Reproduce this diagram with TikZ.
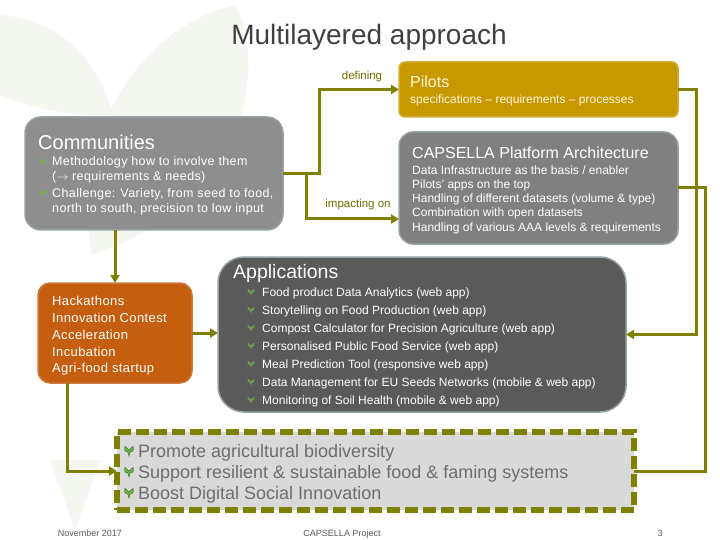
\documentclass[tikz,border=0pt]{standalone}
\usepackage{fontspec}
\setmainfont{Liberation Sans}
\usetikzlibrary{arrows.meta,calc}
\definecolor{olivec}{RGB}{128,128,0}
\definecolor{labelc}{RGB}{110,110,0}
\definecolor{pilotc}{RGB}{200,152,0}
\definecolor{pilotb}{RGB}{214,172,50}
\definecolor{pilott}{RGB}{255,246,215}
\definecolor{capsc}{RGB}{128,128,128}
\definecolor{commc}{RGB}{142,142,142}
\definecolor{appc}{RGB}{90,90,90}
\definecolor{edgec}{RGB}{150,162,166}
\definecolor{hackc}{RGB}{197,94,14}
\definecolor{hackb}{RGB}{206,122,62}
\definecolor{goalc}{RGB}{217,217,217}
\definecolor{goaltext}{RGB}{110,110,110}
\definecolor{titlec}{RGB}{64,64,64}
\definecolor{sproutc}{RGB}{110,180,70}
\definecolor{sproutd}{RGB}{60,120,30}
\definecolor{wmc}{RGB}{244,247,239}
\definecolor{footc}{RGB}{90,90,90}
\newcommand\fsz[1]{\fontsize{#1}{#1}\selectfont}
\tikzset{sprout/.pic={\path[pic actions] (0,0) -- (-0.8,-3) .. controls (-3.5,-3) and (-4,-6) .. (-3.2,-7.5) .. controls (-1.5,-6.5) .. (0,-4.5) .. controls (1.5,-6.5) .. (3.2,-7.5) .. controls (4,-6) and (3.5,-3) .. (0.8,-3) -- cycle;}}
\begin{document}
\begin{tikzpicture}[x=1pt,y=-1pt,
  box/.style={draw, line width=1.5pt, inner sep=0pt, outer sep=0pt},
  conn/.style={draw=olivec, line width=3pt},
  arr/.style={-{Triangle[length=8pt,width=9pt]}},
  txt/.style={anchor=base west, inner sep=0pt, text=white},
  lbl/.style={inner sep=0pt, text=labelc, font=\fsz{11.5}},
  foot/.style={anchor=base, inner sep=0pt, text=footc, font=\fsz{9}},
  bul/.style={fill=sproutc},
  gbul/.style={fill=sproutc, draw=sproutd, line width=0.5pt, scale=1.3}]
\useasboundingbox (0,0) rectangle (720,540);
\fill[white] (0,0) rectangle (720,540);
% watermark
\fill[wmc] (92,255) .. controls (70,150) and (130,30) .. (235,5) .. controls (265,60) and (255,200) .. (92,255) -- cycle;
\fill[wmc] (0,15) .. controls (60,20) and (100,60) .. (112,115) .. controls (70,118) and (25,105) .. (0,95) -- cycle;
\fill[wmc] (50,460) -- (100,460) -- (75,530) -- cycle;
% title
\node[font=\fsz{28}, text=titlec, inner sep=0pt] (title) at (369,37) {Multilayered approach};
% boxes
\node[box, draw=pilotb, fill=pilotc, rounded corners=6pt, minimum width=279pt, minimum height=55pt] (pilots) at (538.5,89.5) {};
\node[box, draw=edgec, fill=capsc, rounded corners=14pt, minimum width=279pt, minimum height=112pt] (caps) at (538.5,188) {};
\node[box, draw=edgec, fill=commc, rounded corners=16pt, minimum width=258pt, minimum height=113pt] (comm) at (154,173.5) {};
\node[box, draw=edgec, fill=appc, rounded corners=26pt, minimum width=408pt, minimum height=155pt] (apps) at (422,334.5) {};
\node[box, draw=hackb, fill=hackc, rounded corners=12pt, minimum width=154pt, minimum height=100pt] (hack) at (115,333) {};
\node[box, draw=olivec, fill=goalc, line width=6pt, dash pattern=on 13pt off 5pt, minimum width=517pt, minimum height=78pt] (goals) at (375.5,471) {};
% pilots text
\node[txt, text=pilott, font=\fsz{16}] (pt) at (410,88) {Pilots};
\node[txt, text=pilott, font=\fsz{12}] (ps) at (410,104) {specifications – requirements – processes};
% capsella text
\node[txt, font=\fsz{16}] (ct) at (412,159) {CAPSELLA Platform Architecture};
\node[txt, font=\fsz{12}] (c1t) at (412,175) {Data Infrastructure as the basis / enabler};
\node[txt, font=\fsz{12}] (c2t) at (412,189) {Pilots' apps on the top};
\node[txt, font=\fsz{12}] (c3t) at (412,203) {Handling of different datasets (volume \& type)};
\node[txt, font=\fsz{12}] (c4t) at (412,217) {Combination with open datasets};
\node[txt, font=\fsz{12}] (c5t) at (412,231) {Handling of various AAA levels \& requirements};
% communities text
\node[txt, font=\fsz{20}] (mt) at (38,150) {Communities};
\node[txt, font=\fsz{12.5}\addfontfeature{LetterSpace=3}] (m1) at (52,166) {Methodology how to involve them};
\node[txt, font=\fsz{12.5}\addfontfeature{LetterSpace=3}] (m2) at (52,181) {($\rightarrow$ requirements \& needs)};
\node[txt, font=\fsz{12.5}\addfontfeature{LetterSpace=3}] (m3) at (52,197) {Challenge: Variety, from seed to food,};
\node[txt, font=\fsz{12.5}\addfontfeature{LetterSpace=3}] (m4) at (52,213) {north to south, precision to low input};
\pic[bul] at (43,166) {sprout};
\pic[bul] at (43,197) {sprout};
% applications text
\node[txt, font=\fsz{19.5}] (at) at (233,278) {Applications};
\foreach \i/\t in {0/{Food product Data Analytics (web app)},
  1/{Storytelling on Food Production (web app)},
  2/{Compost Calculator for Precision Agriculture (web app)},
  3/{Personalised Public Food Service (web app)},
  4/{Meal Prediction Tool (responsive web app)},
  5/{Data Management for EU Seeds Networks (mobile \& web app)},
  6/{Monitoring of Soil Health (mobile \& web app)}}{
  \node[txt, font=\fsz{12}] (a\i) at (262,296+18*\i) {\t};
  \pic[bul, fill=sproutc!80!appc] at (251,296+18*\i) {sprout};
}
% hackathons text
\node[txt, font=\fsz{13}\addfontfeature{LetterSpace=3}] (h1t) at (52,305) {Hackathons};
\node[txt, font=\fsz{13}\addfontfeature{LetterSpace=3}] (h2t) at (52,322) {Innovation Contest};
\node[txt, font=\fsz{13}\addfontfeature{LetterSpace=3}] (h3t) at (52,339) {Acceleration};
\node[txt, font=\fsz{13}\addfontfeature{LetterSpace=3}] (h4t) at (52,356) {Incubation};
\node[txt, font=\fsz{13}\addfontfeature{LetterSpace=3}] (h5t) at (52,372) {Agri-food startup};
% goals text
\node[txt, text=goaltext, font=\fsz{18}] (g1) at (138,457) {Promote agricultural biodiversity};
\node[txt, text=goaltext, font=\fsz{18}] (g2) at (138,478) {Support resilient \& sustainable food \& faming systems};
\node[txt, text=goaltext, font=\fsz{18}] (g3) at (138,499) {Boost Digital Social Innovation};
\pic[gbul] at (129,456) {sprout};
\pic[gbul] at (129,477) {sprout};
\pic[gbul] at (129,498) {sprout};
% labels
\node[lbl] (ldef) at (362,77) {defining};
\node[lbl] (limp) at (358,205) {impacting on};
% footer
\node[foot] (f1) at (90,536) {November 2017};
\node[foot] (f2) at (342,536) {CAPSELLA Project};
\node[foot] (f3) at (660,536) {3};
% connectors
\coordinate (j1) at (319,173.5);
\coordinate (j2) at (306,173.5);
\coordinate (j3) at (306,219);
\coordinate (hb) at (67,383);
\coordinate (hg) at (67,471);
\coordinate (pr) at (696,89.5);
\coordinate (cr) at (705,188);
\draw[conn,arr] (comm.east) -- (j1) |- (pilots.west);
\draw[conn,arr] (j2) -- (j3) -- (caps.west |- j3);
\draw[conn,arr] (hack.north |- comm.south) -- (hack.north);
\draw[conn,arr] (hack.east) -- (apps.west |- hack.east);
\draw[conn,arr] (hb) -- (hg) -- (goals.west);
\draw[conn,arr] (pilots.east) -- (pr) |- (apps.east);
\draw[conn] (caps.east) -- (cr) |- (goals.east);
\end{tikzpicture}
\end{document}
